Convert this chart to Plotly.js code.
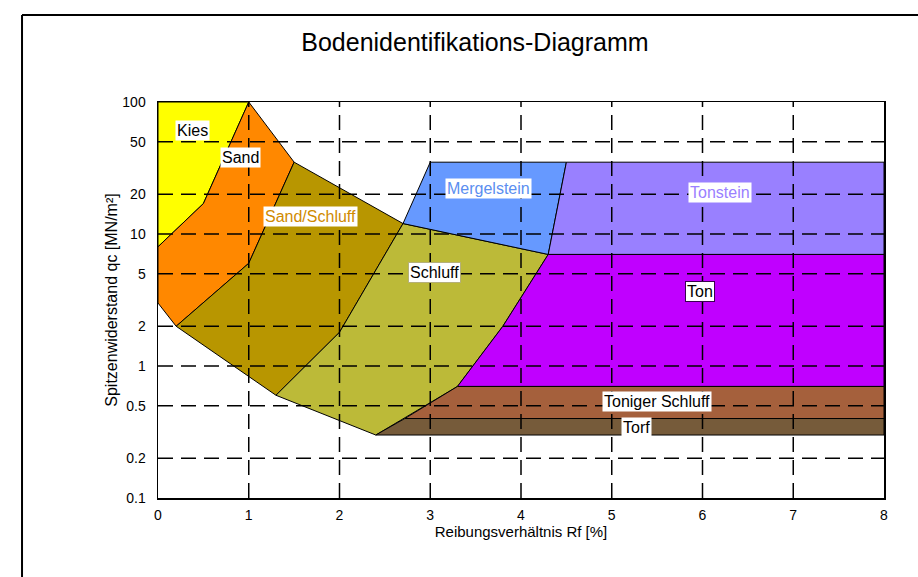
<!DOCTYPE html>
<html>
<head>
<meta charset="utf-8">
<script src="https://cdn.plot.ly/plotly-3.0.1.min.js"></script>
<style>
  body { margin: 0; background: #fff; }
  #chart { width: 918px; height: 577px; }
</style>
</head>
<body>
<div id="chart"></div>
<script>
// Bodenarten-Bereiche (Rf [%], qc [MN/m²])
const kiesX = [0, 1, 0.5, 0, 0];
const kiesY = [100, 100, 17, 8, 100];
const sandX = [1, 1.5, 1, 0.2, 0, 0, 0.5, 1];
const sandY = [100, 35, 6, 2, 3, 8, 17, 100];
const sandSchluffX = [1.5, 2.7, 2, 1.3, 0.2, 1, 1.5];
const sandSchluffY = [35, 12, 1.8, 0.6, 2, 6, 35];
const schluffX = [2.7, 4.3, 3.8, 3.3, 2.4, 1.3, 2, 2.7];
const schluffY = [12, 7, 2, 0.7, 0.3, 0.6, 1.8, 12];
const mergelX = [2.7, 3, 4.5, 4.3, 2.7];
const mergelY = [12, 35, 35, 7, 12];
const tonsteinX = [4.5, 8, 8, 4.3, 4.5];
const tonsteinY = [35, 35, 7, 7, 35];
const tonX = [4.3, 8, 8, 3.3, 3.8, 4.3];
const tonY = [7, 7, 0.7, 0.7, 2, 7];
const tonigerX = [3.3, 8, 8, 2.72, 3.3];
const tonigerY = [0.7, 0.7, 0.4, 0.4, 0.7];
const torfX = [2.72, 8, 8, 2.4, 2.72];
const torfY = [0.4, 0.4, 0.3, 0.3, 0.4];

// Achsen
const xTicks = [0, 1, 2, 3, 4, 5, 6, 7, 8];
const yTicks = [0.1, 0.2, 0.5, 1, 2, 5, 10, 20, 50, 100];
const xGrid = [1, 2, 3, 4, 5, 6, 7];
const yGrid = [0.2, 0.5, 1, 2, 5, 10, 20, 50];

// Beschriftungen
const labelText = ['Kies', 'Sand', 'Sand/Schluff', 'Schluff', 'Mergelstein', 'Tonstein', 'Ton', 'Toniger Schluff', 'Torf'];
const labelX = [0.38, 0.91, 1.68, 3.05, 3.64, 6.19, 5.97, 5.5, 5.27];
const labelY = [61, 38, 13.5, 5.1, 22, 20.5, 3.7, 0.54, 0.34];
const labelColor = ['#000', '#000', '#d08a00', '#000', '#5b8ef0', '#9a80ff', '#000', '#000', '#000'];
const labelBorder = ['rgba(0,0,0,0)', 'rgba(0,0,0,0)', 'rgba(0,0,0,0)', '#b5b07a', 'rgba(0,0,0,0)', 'rgba(0,0,0,0)', '#3a0050', 'rgba(0,0,0,0)', 'rgba(0,0,0,0)'];

const xMin = 0, xMax = 8, yMin = 0.1, yMax = 100;

function region(x, y, color) {
    return {
        x: x, y: y,
        type: 'scatter', mode: 'lines',
        fill: 'toself', fillcolor: color,
        line: { color: '#000', width: 1 },
        hoverinfo: 'skip'
    };
}

const data = [
    region(kiesX, kiesY, '#ffff00'),
    region(sandX, sandY, '#ff8800'),
    region(sandSchluffX, sandSchluffY, '#b89600'),
    region(schluffX, schluffY, '#bcba38'),
    region(mergelX, mergelY, '#6699ff'),
    region(tonsteinX, tonsteinY, '#9980ff'),
    region(tonX, tonY, '#c000ff'),
    region(tonigerX, tonigerY, '#a5603c'),
    region(torfX, torfY, '#765b3a')
];

// Gitterlinien über den Flächen
const gx = [], gy = [];
xGrid.forEach(v => { gx.push(v, v, null); gy.push(yMin, yMax, null); });
yGrid.forEach(v => { gx.push(xMin, xMax, null); gy.push(v, v, null); });
data.push({
    x: gx, y: gy, type: 'scatter', mode: 'lines',
    line: { color: '#000', width: 1.5, dash: '15px,8px' },
    hoverinfo: 'skip', connectgaps: false
});

const annotations = labelText.map((t, i) => ({
    x: labelX[i], y: Math.log10(labelY[i]),
    xref: 'x', yref: 'y',
    text: t, showarrow: false,
    font: { color: labelColor[i], size: 16 },
    bgcolor: '#fff', bordercolor: labelBorder[i], borderwidth: 1, borderpad: 1
}));

const layout = {
    width: 918, height: 577,
    paper_bgcolor: '#fff', plot_bgcolor: '#fff',
    font: { family: 'Liberation Sans, Arial, sans-serif', size: 14, color: '#000' },
    margin: { l: 158, r: 34, t: 102, b: 79 },
    showlegend: false,
    title: {
        text: 'Bodenidentifikations-Diagramm',
        font: { size: 25 },
        x: 0.5174, xanchor: 'center', y: 0.927, yanchor: 'middle'
    },
    xaxis: {
        range: [xMin, xMax], tickvals: xTicks,
        showgrid: false, zeroline: false,
        showline: true, linecolor: '#000', linewidth: 1.5, mirror: true,
        ticks: '', ticklabelstandoff: 4,
        title: { text: 'Reibungsverhältnis Rf [%]', font: { size: 15 }, standoff: 2 }
    },
    yaxis: {
        type: 'log', range: [Math.log10(yMin), Math.log10(yMax)],
        tickvals: yTicks, ticktext: yTicks.map(String),
        showgrid: false, zeroline: false,
        showline: true, linecolor: '#000', linewidth: 1.5, mirror: true,
        ticks: '', ticklabelstandoff: 8,
        title: { text: 'Spitzenwiderstand qc [MN/m²]', font: { size: 16 }, standoff: 0 }
    },
    annotations: annotations,
    shapes: [
        { type: 'line', xref: 'paper', yref: 'paper', x0: -0.1873, x1: -0.1873, y0: 1.22, y1: -0.3, line: { color: '#000', width: 2 } },
        { type: 'line', xref: 'paper', yref: 'paper', x0: -0.1873, x1: 1.2, y0: 1.22, y1: 1.22, line: { color: '#000', width: 2 } }
    ]
};

Plotly.newPlot('chart', data, layout, { displayModeBar: false, staticPlot: true });
</script>
</body>
</html>
